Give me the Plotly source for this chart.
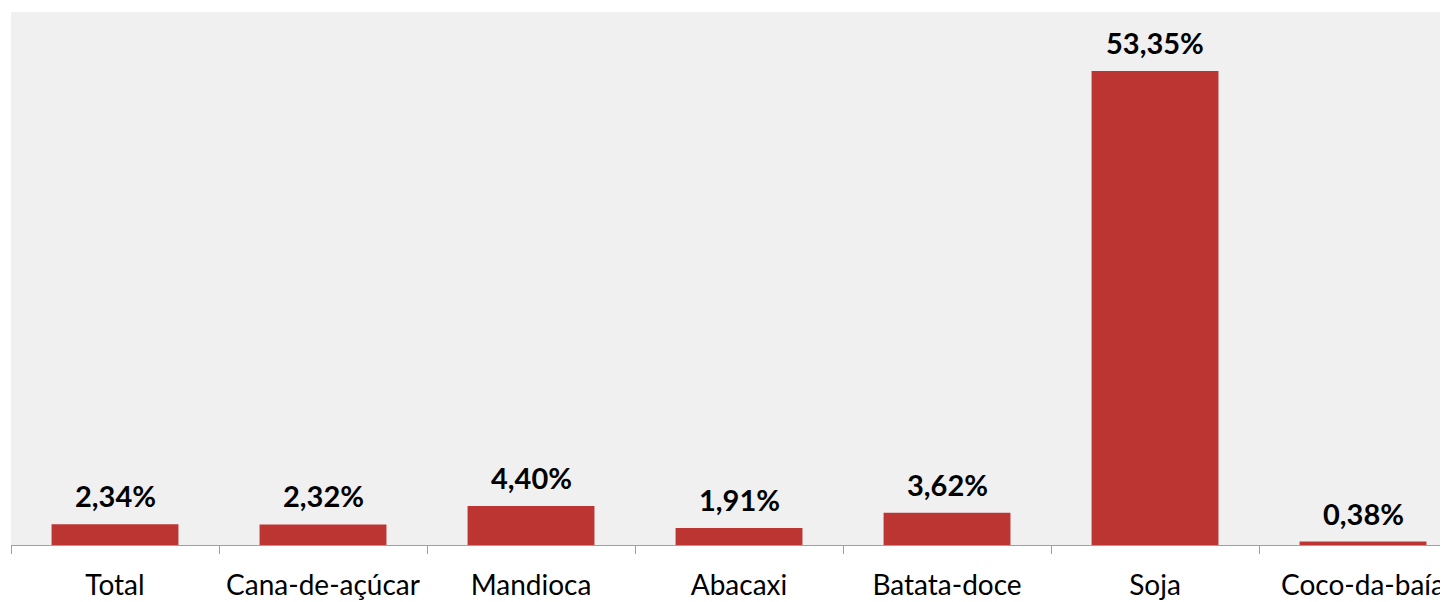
import plotly.graph_objects as go

categorias = ["Total", "Cana-de-açúcar", "Mandioca", "Abacaxi", "Batata-doce", "Soja", "Coco-da-baía"]
percentuais = [2.34, 2.32, 4.40, 1.91, 3.62, 53.35, 0.38]

rotulos = [f"{v:.2f}%".replace(".", ",") for v in percentuais]

fig = go.Figure()
fig.add_trace(go.Bar(
    x=categorias,
    y=percentuais,
    width=0.61,
    marker=dict(color="#bd3533", line=dict(width=0)),
    hoverinfo="skip",
))

# rótulos acima das barras
for cat, val, txt in zip(categorias, percentuais, rotulos):
    fig.add_annotation(
        x=cat, y=val, text=f"<b>{txt}</b>",
        showarrow=False, yanchor="bottom", yshift=9,
        font=dict(family="Lato", size=29, color="#000000"),
    )

# a página tem 8px de margem no body, por isso as margens menores
fig.update_layout(
    width=1448, height=602,
    margin=dict(l=3, r=0, t=4, b=65, autoexpand=False),
    paper_bgcolor="#ffffff",
    plot_bgcolor="#f0f0f0",
    showlegend=False,
    font=dict(family="Lato", size=29, color="#000000"),
)
fig.update_xaxes(
    range=[-0.5, 6.447],
    automargin=False,
    tickangle=0,
    tickfont=dict(size=28),
    showline=True, linecolor="#a0a0a0", linewidth=1,
    ticks="outside", tickson="boundaries", ticklen=8, tickcolor="#a0a0a0",
    ticklabelstandoff=15,
    showgrid=False,
)
fig.update_yaxes(range=[0, 60], visible=False, showgrid=False)

fig.write_html("out.html")
